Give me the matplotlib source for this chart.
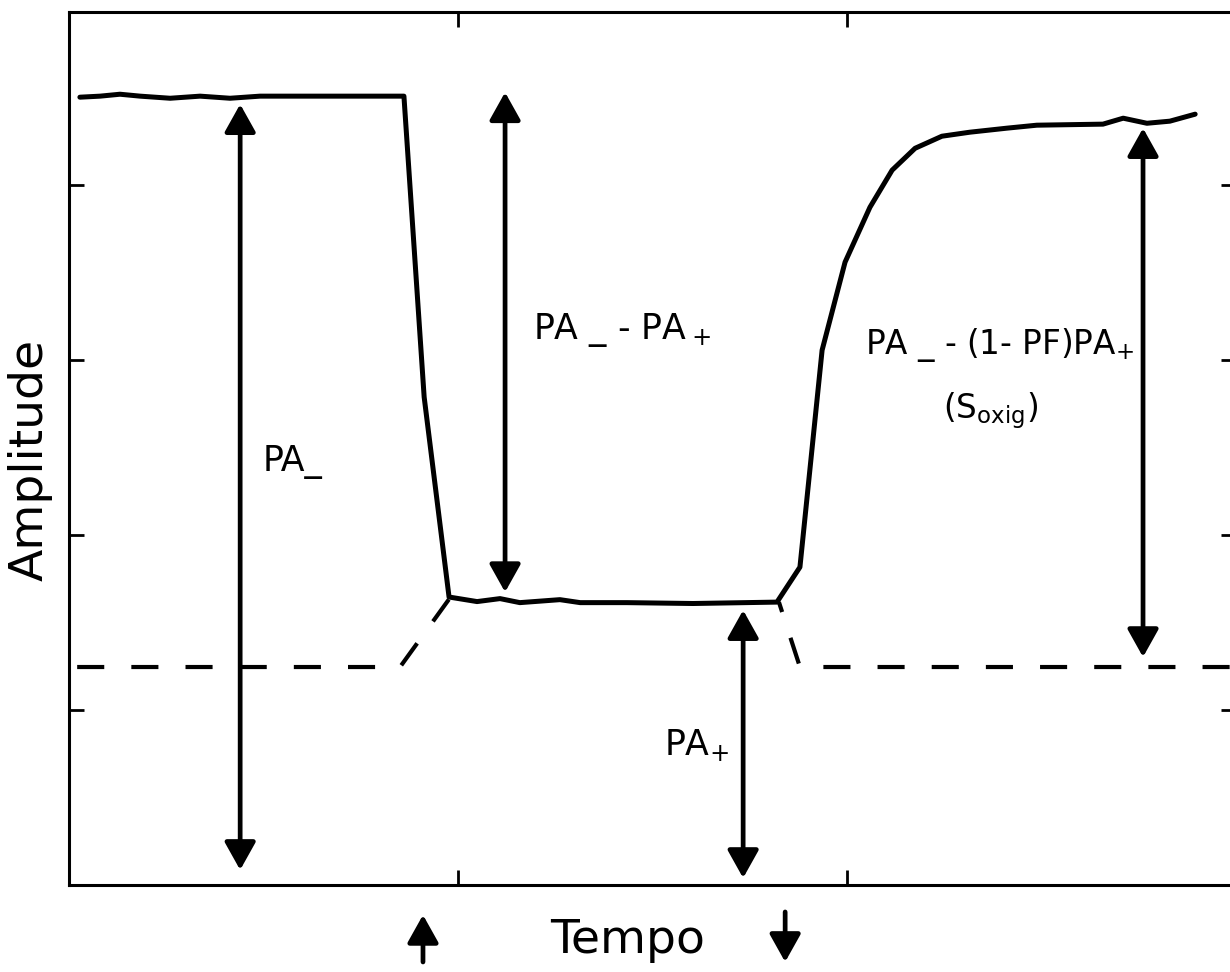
import matplotlib
matplotlib.use("Agg")
import matplotlib.pyplot as plt

plt.rcParams['font.family'] = ['DejaVu Sans']
plt.rcParams['mathtext.fontset'] = 'dejavusans'

# ---- data ----
time = [0.028, 0.080, 0.131, 0.183, 0.260, 0.337, 0.414, 0.491, 0.594, 0.697, 0.774, 0.861,
        0.913, 0.977, 1.049, 1.108, 1.159, 1.262, 1.314, 1.434, 1.604, 1.820,
        1.879, 1.936, 1.995, 2.059, 2.116, 2.175, 2.244, 2.316, 2.411, 2.488, 2.658,
        2.710, 2.771, 2.830, 2.895]
amplitude = [4.503, 4.509, 4.520, 4.509, 4.497, 4.509, 4.497, 4.509, 4.509, 4.509, 4.509, 4.509,
             2.789, 1.646, 1.620, 1.637, 1.614, 1.631, 1.614, 1.614, 1.609, 1.617,
             1.817, 3.057, 3.560, 3.874, 4.086, 4.211, 4.280, 4.303, 4.326, 4.343, 4.349,
             4.383, 4.354, 4.366, 4.406]

base_left_t = [0.021, 0.851, 0.979]
base_left_a = [1.246, 1.246, 1.640]
base_right_t = [1.825, 1.879, 2.985]
base_right_a = [1.617, 1.246, 1.246]

arrow_x = [0.440, 1.121, 1.733, 2.761]
arrow_low = [0.086, 1.674, 0.040, 1.303]
arrow_high = [4.463, 4.531, 1.571, 4.326]

label_text = ["PA_", "PA _ - PA$\\,_{+}$", "PA _ - (1- PF)PA$_{+}$", "(S$_{\\mathrm{oxig}}$)", "PA$_{+}$"]
label_x = [0.499, 1.193, 2.045, 2.370, 1.530]
label_y = [2.417, 3.171, 3.086, 2.714, 0.800]
label_ha = ["left", "left", "left", "center", "left"]
label_size = [25, 25, 23.5, 23.5, 25]

x_ticks = [1, 2]
y_ticks = [1, 2, 3, 4]

# marker arrows under the time axis (start / end of stimulus)
mark_x = [0.910, 1.841]
mark_from = [-0.44, -0.154]
mark_to = [-0.171, -0.44]

# ---- figure ----
fig = plt.figure(figsize=(12.3, 9.72), dpi=100)
ax = fig.add_axes([69/1230, 87/972, (1236-69)/1230, (885-12)/972])
ax.set_xlim(0, 3)
ax.set_ylim(0, 4.99)

ax.plot(time, amplitude, color='black', lw=3.6, solid_joinstyle='round', solid_capstyle='round')
ax.plot(base_left_t, base_left_a, color='black', lw=3.0, linestyle=(0, (6.5, 6.5)))
ax.plot(base_right_t, base_right_a, color='black', lw=3.0, linestyle=(4, (6.5, 6.5)))

style = "head_length=1.7,head_width=0.95"
for x, lo, hi in zip(arrow_x, arrow_low, arrow_high):
    ax.annotate("", xy=(x, hi), xytext=(x, lo),
                arrowprops=dict(arrowstyle="<|-|>," + style,
                                mutation_scale=10, lw=3.4, color='black',
                                shrinkA=0, shrinkB=0))

for x, a, b in zip(mark_x, mark_from, mark_to):
    ax.annotate("", xy=(x, b), xytext=(x, a), annotation_clip=False,
                arrowprops=dict(arrowstyle="-|>," + style,
                                mutation_scale=10, lw=3.4, color='black',
                                shrinkA=0, shrinkB=0))

for s, x, y, ha, fs in zip(label_text, label_x, label_y, label_ha, label_size):
    ax.text(x, y, s, fontsize=fs, ha=ha, va='center', color='black')

ax.set_xticks(x_ticks)
ax.set_yticks(y_ticks)
ax.tick_params(direction='in', length=11, width=2, top=True, right=True,
               labelbottom=False, labelleft=False)
for sp in ax.spines.values():
    sp.set_linewidth(2.2)

fig.text(30/1230, 1 - 460/972, "Amplitude", rotation=90, fontsize=34, ha='center', va='center')
fig.text(628/1230, 1 - 940/972, "Tempo", fontsize=34, ha='center', va='center')

fig.savefig("out.png", dpi=100)
